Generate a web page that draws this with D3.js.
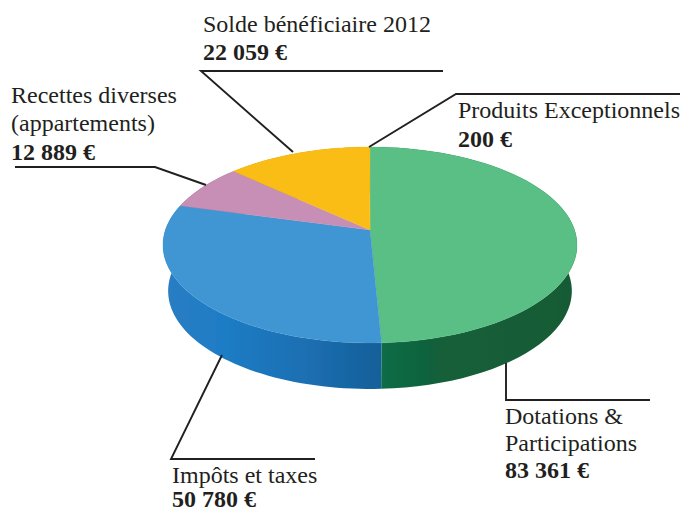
<!DOCTYPE html>
<html lang="fr"><head><meta charset="utf-8">
<script src="https://cdn.jsdelivr.net/npm/d3@7"></script>
<style>html,body{margin:0;padding:0;background:#fff}svg{display:block}
text{font-family:"Liberation Serif",serif;fill:#231f20;font-size:24px}
.v{font-weight:bold}</style></head><body>
<svg id="c" width="682" height="512"></svg>
<script>
const categories = ["Dotations & Participations","Impôts et taxes","Recettes diverses (appartements)","Solde bénéficiaire 2012","Produits Exceptionnels"];
const values = [83361,50780,12889,22059,200];
const topColors = ["#5abf85","#4095d3","#c78fb5","#fabd15","#fabd15"];
const wallStops = [
  [["0","#0e6d47"],["0.3","#125f39"],["1","#145a35"]],
  [["0","#2a7dc2"],["0.25","#1f7dc6"],["0.65","#1b6fb2"],["1","#165f99"]],
  [["0","#8e5f80"],["1","#8e5f80"]],[["0","#c08c0c"],["1","#c08c0c"]],[["0","#c08c0c"],["1","#c08c0c"]]
];
const wallRanges = [[382,578],[164,382],[164,240],[230,372],[368,372]];
const labels = [
  {lines:[["Dotations &",505,424],["Participations",505,451]],value:["83 361 €",505,478],leader:[[506,363],[506,400],[650,400]]},
  {lines:[["Impôts et taxes",172,483]],value:["50 780 €",172,506.8],leader:[[222,355],[171,459],[315,459]]},
  {lines:[["Recettes diverses",11,103],["(appartements)",11,131]],value:["12 889 €",11,160],leader:[[206,185],[155,167],[15,167]]},
  {lines:[["Solde bénéficiaire 2012",203,32]],value:["22 059 €",203,60],leader:[[293,152],[201,71],[443,71]]},
  {lines:[["Produits Exceptionnels",458,118]],value:["200 €",458,147],leader:[[369,147],[456,94],[680,94]]}
];
const apex = {x:370,y:230}, a = 204.6, b = 95.7, p = 0.153, depth = 46, shrink = 0.975;
const svg = d3.select("#c");
const pie = d3.pie().sort(null).value(d=>d);
const arcs = pie(values);
const project = (t,s=1,dy=0)=>{
  const u=Math.sin(t), v=Math.cos(t), w=1+p*v;
  return [apex.x + s*a*u/w, apex.y - b*v/w + dy];
};
const line = d3.line();
const rim = (t0,t1,s,dy)=>d3.range(0,61).map(i=>project(t0+(t1-t0)*i/60,s,dy));
const defs = svg.append("defs");
defs.append("filter").attr("id","soft").append("feGaussianBlur").attr("stdDeviation",0.45);
arcs.forEach((d,i)=>{
  const g=defs.append("linearGradient").attr("id","w"+i).attr("gradientUnits","userSpaceOnUse")
    .attr("x1",wallRanges[i][0]).attr("x2",wallRanges[i][1]).attr("y1",0).attr("y2",0);
  wallStops[i].forEach(s=>g.append("stop").attr("offset",s[0]).attr("stop-color",s[1]));
});
const pieG = svg.append("g").attr("filter","url(#soft)");
pieG.selectAll("path.wall").data(arcs).join("path").attr("class","wall")
  .attr("fill",(d,i)=>`url(#w${i})`)
  .attr("d",d=>line(rim(d.startAngle,d.endAngle,1,0).concat(rim(d.endAngle,d.startAngle,shrink,depth)))+"Z");
pieG.selectAll("path.top").data(arcs).join("path").attr("class","top")
  .attr("fill",(d,i)=>topColors[i]).attr("stroke",(d,i)=>topColors[i]).attr("stroke-width",0.3)
  .attr("d",d=>line([[apex.x,apex.y]].concat(rim(d.startAngle,d.endAngle,1,0)))+"Z");
svg.selectAll("path.lead").data(labels).join("path").attr("class","lead")
  .attr("fill","none").attr("stroke","#231f20").attr("stroke-width",1.9)
  .attr("d",d=>line(d.leader));
labels.forEach(l=>{
  l.lines.forEach(t=>svg.append("text").attr("x",t[1]).attr("y",t[2]).text(t[0]));
  svg.append("text").attr("class","v").attr("x",l.value[1]).attr("y",l.value[2]).text(l.value[0]);
});
</script></body></html>
